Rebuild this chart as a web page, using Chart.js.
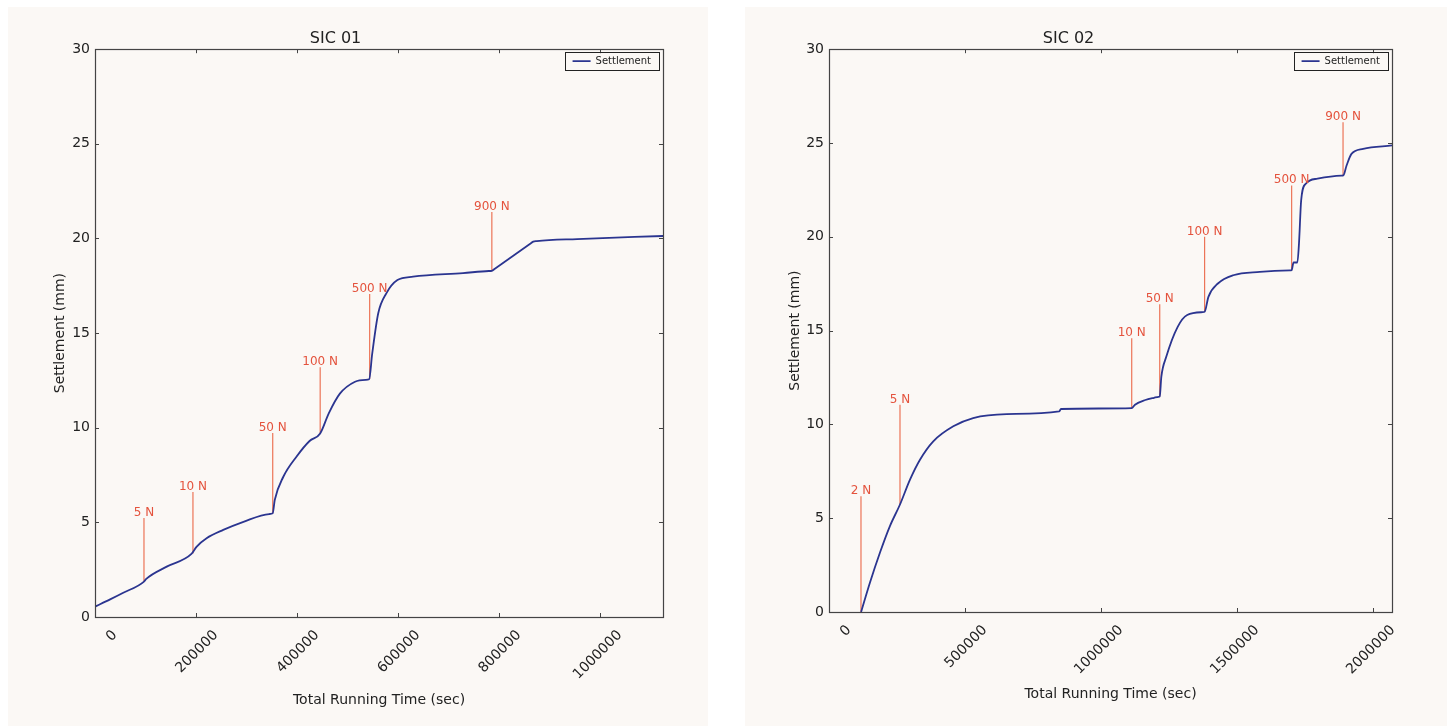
<!DOCTYPE html>
<html>
<head>
<meta charset="utf-8">
<title>SIC 01 / SIC 02 settlement</title>
<script src="https://cdn.jsdelivr.net/npm/chart.js@4.4.1/dist/chart.umd.min.js"></script>
<style>
  html, body { margin: 0; padding: 0; background: #ffffff; }
  .panel { position: absolute; top: 7px; height: 719px; background: #fbf8f5; }
  #panel-1 { left: 8px; width: 700px; }
  #panel-2 { left: 745px; width: 702px; }
</style>
</head>
<body>
<div class="panel" id="panel-1"><canvas id="chart-sic1" width="700" height="719"></canvas></div>
<div class="panel" id="panel-2"><canvas id="chart-sic2" width="702" height="719"></canvas></div>
<script>
// ─── Data: SIC 01 ────────────────────────────────────────────────────────────
const sic1Time   = [0, 30000, 56000, 97000, 101000, 142000, 191000, 201000, 221000, 254000,
                    294000, 345000, 352000, 356000, 373000, 399000, 425000, 446000, 463000, 485000,
                    515000, 536000, 543000, 549000, 561000, 577000, 599000, 630000, 729000, 780000,
                    786000, 792000, 862000, 868000, 875000, 955000, 1125000];
const sic1Settle = [0.55, 0.93, 1.28, 1.87, 2.0, 2.66, 3.33, 3.71, 4.16, 4.6,
                    5.03, 5.44, 5.48, 6.18, 7.41, 8.47, 9.3, 9.7, 10.76, 11.8,
                    12.43, 12.53, 12.56, 13.9, 16.05, 17.1, 17.8, 17.98, 18.17, 18.28,
                    18.29, 18.4, 19.72, 19.83, 19.86, 19.97, 20.13];
const sic1LoadTime  = [97000, 194000, 352000, 446000, 544000, 786000];
const sic1LoadBase  = [1.87, 3.35, 5.48, 9.67, 12.57, 18.29];
const sic1LoadTop   = [5.23, 6.6, 9.72, 13.2, 17.06, 21.4];
const sic1LoadLabel = ["5 N", "10 N", "50 N", "100 N", "500 N", "900 N"];
const sic1XTicks    = [0, 200000, 400000, 600000, 800000, 1000000];

// ─── Data: SIC 02 ────────────────────────────────────────────────────────────
const sic2Time   = [118000, 150700, 187500, 224000, 261000, 297800, 334500, 383400, 457000, 530000,
                    653000, 846000, 853000, 1113000, 1125000, 1163000, 1195000, 1212000, 1216000, 1222000,
                    1240000, 1282000, 1317000, 1374000, 1381000, 1395000, 1430000, 1486000, 1584000, 1695000,
                    1701000, 1708000, 1722000, 1728000, 1736000, 1753000, 1796000, 1885000, 1891000, 1903000,
                    1921000, 1964000, 2070000];
const sic2Settle = [0, 1.57, 3.17, 4.58, 5.73, 7.06, 8.12, 9.1, 9.9, 10.34,
                    10.55, 10.69, 10.82, 10.87, 11.05, 11.3, 11.42, 11.47, 11.49, 12.55,
                    13.6, 15.2, 15.83, 15.98, 16.0, 16.8, 17.51, 17.95, 18.13, 18.21,
                    18.22, 18.63, 18.63, 19.64, 21.94, 22.83, 23.1, 23.26, 23.27, 23.8,
                    24.42, 24.69, 24.87];
const sic2LoadTime  = [117600, 261000, 1113000, 1216000, 1381000, 1701000, 1890000];
const sic2LoadBase  = [0, 5.73, 10.87, 11.49, 16.0, 18.22, 23.27];
const sic2LoadTop   = [6.17, 11.05, 14.59, 16.41, 20.0, 22.74, 26.1];
const sic2LoadLabel = ["2 N", "5 N", "10 N", "50 N", "100 N", "500 N", "900 N"];
const sic2XTicks    = [0, 500000, 1000000, 1500000, 2000000];

const yTicks = [0, 5, 10, 15, 20, 25, 30];

// ─── Style ───────────────────────────────────────────────────────────────────
const FONT      = "'DejaVu Sans', 'Liberation Sans', sans-serif";
const INK       = "#222222";
const CURVE     = "#2b3590";
const LOAD_LINE = "#ec7457";
const LOAD_TEXT = "#e4533d";

Chart.defaults.font.family = FONT;
Chart.defaults.color = INK;

function buildChart(canvasId, o) {
  const curve = o.time.map((t, i) => ({ x: t, y: o.settle[i] }));
  const loadSets = o.loadTime.map((t, i) => ({
    label: o.loadLabel[i],
    data: [{ x: t, y: o.loadBase[i] }, { x: t, y: o.loadTop[i] }],
    borderColor: LOAD_LINE, borderWidth: 1.2, pointRadius: 0, order: 1
  }));

  // frame with inward ticks, load labels, legend moved into the top-right corner
  const framePlugin = {
    id: "frame",
    afterUpdate(chart) {
      const lg = chart.legend;
      const h = lg && lg.legendHitBoxes[0];
      if (!h) return;
      const a = chart.chartArea;
      const dx = (a.right - 12) - (h.left + h.width);
      const dy = (a.top + 7) - h.top;
      lg.left += dx; lg.right = lg.left + lg.width;
      lg.top += dy;  lg.bottom = lg.top + lg.height;
      lg.legendHitBoxes.forEach(b => { b.left += dx; b.top += dy; });
    },
    afterDatasetsDraw(chart) {
      const { ctx, chartArea: a, scales: { x, y } } = chart;
      ctx.save();
      ctx.fillStyle = LOAD_TEXT;
      ctx.font = "12px " + FONT;
      ctx.textAlign = "center";
      ctx.textBaseline = "alphabetic";
      o.loadTime.forEach((t, i) => {
        ctx.fillText(o.loadLabel[i], x.getPixelForValue(t), y.getPixelForValue(o.loadTop[i]) - 2);
      });

      ctx.strokeStyle = "#444";
      ctx.lineWidth = 1;
      ctx.beginPath();
      o.xTicks.forEach(v => {
        const px = Math.round(x.getPixelForValue(v)) + 0.5;
        ctx.moveTo(px, a.bottom); ctx.lineTo(px, a.bottom - 4);
        ctx.moveTo(px, a.top);    ctx.lineTo(px, a.top + 4);
      });
      yTicks.forEach(v => {
        const py = Math.round(y.getPixelForValue(v)) + 0.5;
        ctx.moveTo(a.left, py);  ctx.lineTo(a.left + 4, py);
        ctx.moveTo(a.right, py); ctx.lineTo(a.right - 4, py);
      });
      ctx.stroke();
      ctx.lineWidth = 1.2;
      ctx.strokeRect(Math.round(a.left) + 0.5, Math.round(a.top) + 0.5,
                     Math.round(a.width), Math.round(a.height));
      ctx.restore();
    },
    afterDraw(chart) {
      const h = chart.legend && chart.legend.legendHitBoxes[0];
      if (!h) return;
      const ctx = chart.ctx;
      ctx.save();
      ctx.strokeStyle = "#222";
      ctx.lineWidth = 1;
      ctx.strokeRect(Math.round(h.left - 8) + 0.5, Math.round(h.top - 4) + 0.5,
                     Math.round(h.width + 16), Math.round(h.height + 8));
      ctx.restore();
    }
  };

  return new Chart(document.getElementById(canvasId), {
    type: "line",
    data: {
      datasets: [{
        label: "Settlement", data: curve, borderColor: CURVE, backgroundColor: CURVE,
        borderWidth: 1.8, pointRadius: 0, cubicInterpolationMode: "monotone", order: 0
      }, ...loadSets]
    },
    options: {
      responsive: false,
      animation: false,
      devicePixelRatio: 1,
      layout: { padding: { top: 22, right: o.padRight, bottom: 0, left: 0 } },
      plugins: {
        title: {
          display: true, text: o.title, color: INK,
          font: { family: FONT, size: 16, weight: "normal" },
          padding: { top: 0, bottom: 1 }
        },
        legend: {
          position: "chartArea", align: "start",
          labels: {
            filter: item => item.datasetIndex === 0,
            usePointStyle: true, pointStyle: "line", pointStyleWidth: 18,
            padding: 10, color: INK, font: { family: FONT, size: 10 }
          }
        },
        tooltip: { enabled: false }
      },
      scales: {
        x: {
          type: "linear", min: 0, max: o.xMax,
          afterBuildTicks: s => { s.ticks = o.xTicks.map(v => ({ value: v })); },
          afterFit: s => { s.height = o.xAxisH; },
          grid: { display: false, drawTicks: false },
          border: { display: false },
          ticks: {
            autoSkip: false, minRotation: 45, maxRotation: 45, padding: 10, labelOffset: 20,
            color: INK, font: { family: FONT, size: 14 }, callback: v => String(v)
          },
          title: {
            display: true, text: "Total Running Time (sec)", color: INK,
            font: { family: FONT, size: 14 }, padding: { top: 0, bottom: o.xTitlePad }
          }
        },
        y: {
          type: "linear", min: 0, max: 30,
          afterBuildTicks: s => { s.ticks = yTicks.map(v => ({ value: v })); },
          afterFit: s => { s.width = o.yAxisW; },
          grid: { display: false, drawTicks: false },
          border: { display: false },
          ticks: { padding: 5, color: INK, font: { family: FONT, size: 14 }, callback: v => String(v) },
          title: {
            display: true, text: "Settlement (mm)", color: INK,
            font: { family: FONT, size: 14 }, padding: { top: o.yTitlePad, bottom: 0 }
          }
        }
      }
    },
    plugins: [framePlugin]
  });
}

buildChart("chart-sic1", {
  title: "SIC 01", time: sic1Time, settle: sic1Settle,
  loadTime: sic1LoadTime, loadBase: sic1LoadBase, loadTop: sic1LoadTop, loadLabel: sic1LoadLabel,
  xTicks: sic1XTicks, xMax: 1125000,
  padRight: 45, yAxisW: 87, xAxisH: 109, xTitlePad: 17, yTitlePad: 44
});

buildChart("chart-sic2", {
  title: "SIC 02", time: sic2Time, settle: sic2Settle,
  loadTime: sic2LoadTime, loadBase: sic2LoadBase, loadTop: sic2LoadTop, loadLabel: sic2LoadLabel,
  xTicks: sic2XTicks, xMax: 2070000,
  padRight: 55, yAxisW: 84, xAxisH: 114, xTitlePad: 23, yTitlePad: 42
});
</script>
</body>
</html>
